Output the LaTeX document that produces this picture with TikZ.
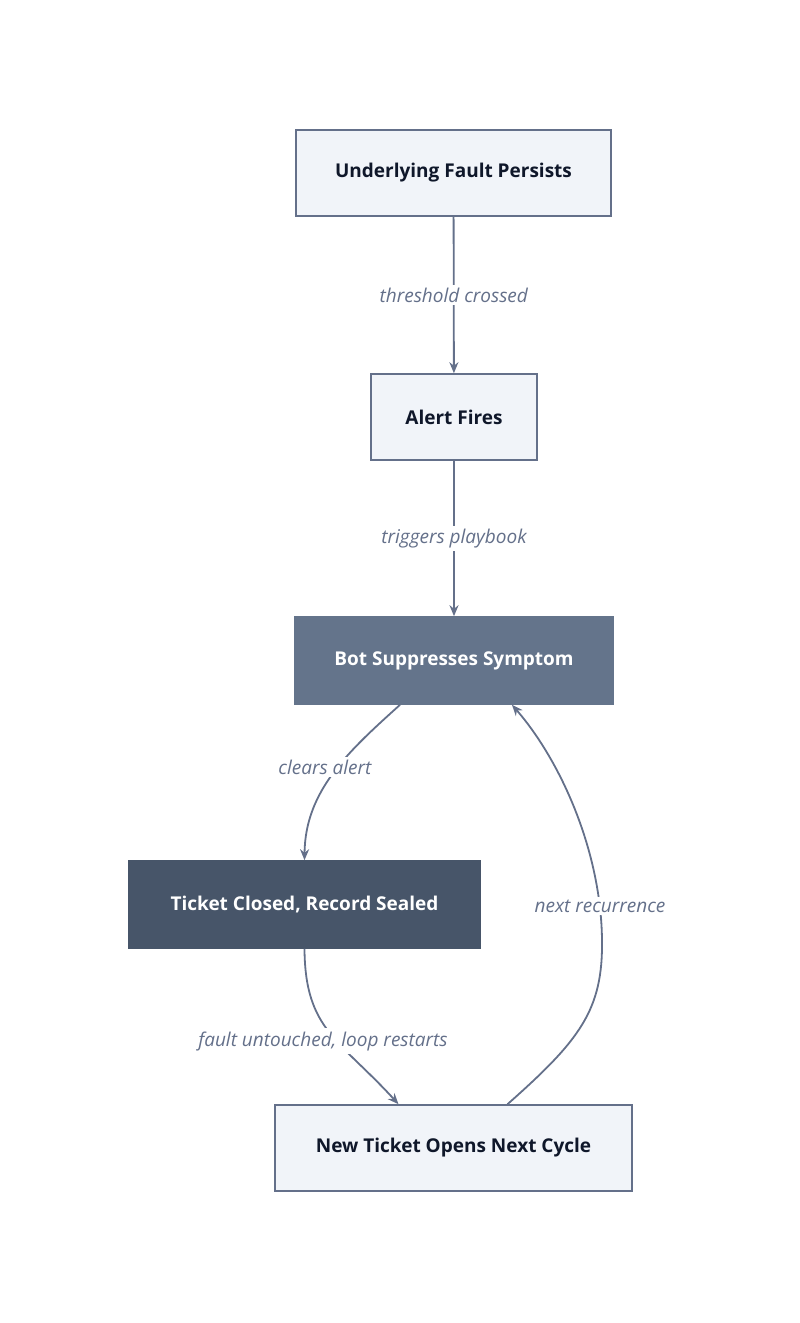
\documentclass[tikz,border=0pt]{standalone}
\usepackage{fontspec}
\setmainfont{Open Sans}
\usetikzlibrary{arrows.meta,calc}
\definecolor{edge}{HTML}{64708A}
\definecolor{lightbox}{HTML}{F1F4F9}
\definecolor{midbox}{HTML}{64748B}
\definecolor{darkbox}{HTML}{475569}
\definecolor{txt}{HTML}{0F172A}
\definecolor{lbl}{HTML}{64708A}
\begin{document}
\begin{tikzpicture}[x=1pt,y=-1pt,
  box/.style={draw=edge,line width=1.6pt,inner sep=0pt,font=\fontsize{19}{22}\selectfont\bfseries},
  light/.style={box,fill=lightbox,text=txt},
  mid/.style={box,fill=midbox,draw=midbox,text=white},
  dark/.style={box,fill=darkbox,draw=darkbox,text=white},
  conn/.style={draw=edge,line width=1.8pt,-{Stealth[length=11pt,width=9pt]}},
  lab/.style={fill=white,text=lbl,font=\fontsize{19}{22}\selectfont\itshape,inner sep=3pt}]
\useasboundingbox (0,0) rectangle (800,1323);
\node[light,minimum width=315pt,minimum height=86pt] (b1) at (453.5,173) {Underlying Fault Persists};
\node[light,minimum width=166pt,minimum height=86pt] (b2) at (454,417) {Alert Fires};
\node[mid,minimum width=318pt,minimum height=87pt] (b3) at (454,660.5) {Bot Suppresses Symptom};
\node[dark,minimum width=351pt,minimum height=87pt] (b4) at (304.5,904.5) {Ticket Closed, Record Sealed};
\node[light,minimum width=357pt,minimum height=86pt] (b5) at (453.5,1148) {New Ticket Opens Next Cycle};
\draw[conn] (b1) -- node[lab]{threshold crossed} (b2);
\draw[conn] (b2) -- node[lab]{triggers playbook} (b3);
\coordinate (s3) at ($(b3.south)+(-54,0)$);
\coordinate (e4) at (b4.north);
\draw[conn] (s3) .. controls (350,750) and (305,790) .. (e4);
\node[lab] (l3) at (325,767) {clears alert};
\coordinate (s4) at (b4.south);
\coordinate (e5) at ($(b5.north)+(-55,0)$);
\draw[conn] (s4) .. controls (305,1030) and (340,1040) .. (e5);
\node[lab] (l4) at (323,1041) {fault untouched, loop restarts};
\coordinate (s5) at ($(b5.north)+(54,0)$);
\coordinate (e3) at ($(b3.south)+(58,0)$);
\draw[conn] (s5) .. controls (580,1040) and (603,1010) .. (602,940)
  .. controls (601,850) and (560,760) .. (e3);
\node[lab] (l5) at (600,906) {next recurrence};
\end{tikzpicture}
\end{document}
